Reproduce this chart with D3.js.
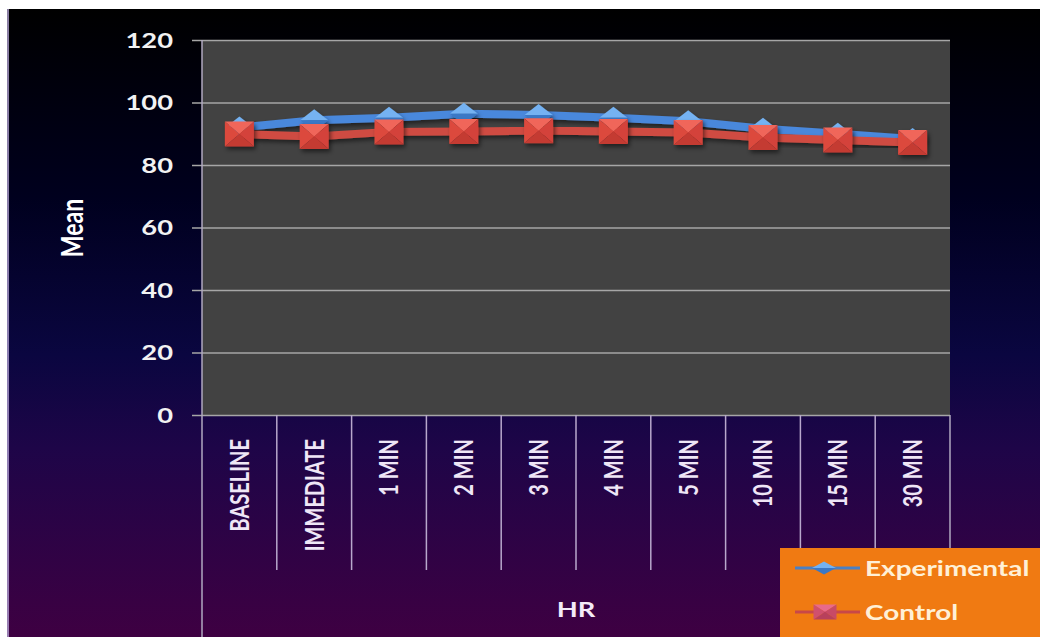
<!DOCTYPE html>
<html>
<head>
<meta charset="utf-8">
<script src="https://cdn.jsdelivr.net/npm/d3@7/dist/d3.min.js"></script>
<style>
  html, body { margin: 0; padding: 0; background: #ffffff; }
  svg { display: block; }
  text { font-family: Lato, "Open Sans", sans-serif; font-weight: bold; }
</style>
</head>
<body>
<svg id="chart" width="1040" height="637"></svg>
<script>
// Heart rate means over time
const categories = ["BASELINE", "IMMEDIATE", "1 MIN", "2 MIN", "3 MIN", "4 MIN", "5 MIN", "10 MIN", "15 MIN", "30 MIN"];
const experimental = [92, 94.3, 95.1, 96.4, 96, 95.1, 94, 91.6, 90, 88.3];
const control = [89.9, 89.1, 90.6, 90.7, 91, 90.7, 90.4, 88.8, 88, 87.2];
const yTicks = [0, 20, 40, 60, 80, 100, 120];
const seriesNames = ["Experimental", "Control"];

const W = 1040, H = 637;
const plot = { left: 202, right: 950, top: 40, bottom: 415 };
const stretch = 1.3; // horizontal text stretch

const svg = d3.select("#chart");
const defs = svg.append("defs");

// background gradient
const bg = defs.append("linearGradient").attr("id", "bg").attr("x1", 0).attr("y1", 0).attr("x2", 0).attr("y2", 1);
[["0%", "#000000"], ["30%", "#00001e"], ["55%", "#0a0640"], ["70%", "#1e0548"], ["100%", "#3e0042"]]
  .forEach(([o, c]) => bg.append("stop").attr("offset", o).attr("stop-color", c));

const shadow = defs.append("filter").attr("id", "shadow").attr("x", "-30%").attr("y", "-30%").attr("width", "170%").attr("height", "170%");
shadow.append("feDropShadow").attr("dx", 2).attr("dy", 3).attr("stdDeviation", 2).attr("flood-color", "#000").attr("flood-opacity", 0.5);

svg.append("rect").attr("x", 7).attr("y", 9).attr("width", W - 7).attr("height", H - 9).attr("fill", "url(#bg)");
svg.append("line").attr("x1", 8).attr("x2", 8).attr("y1", 9).attr("y2", H)
  .attr("stroke", "#b8a8d8").attr("stroke-width", 1.5);

const x = d3.scaleBand().domain(categories).range([plot.left, plot.right]).paddingInner(0).paddingOuter(0);
const y = d3.scaleLinear().domain([0, 120]).range([plot.bottom, plot.top]);
const cx = d => x(d) + x.bandwidth() / 2;

// plot area
svg.append("rect").attr("x", plot.left).attr("y", plot.top)
  .attr("width", plot.right - plot.left).attr("height", plot.bottom - plot.top)
  .attr("fill", "#424242");

// gridlines with outward ticks
const yAxis = d3.axisLeft(y).tickValues(yTicks).tickSize(-(plot.right - plot.left)).tickFormat("");
const gy = svg.append("g").attr("transform", `translate(${plot.left},0)`).call(yAxis);
gy.select(".domain").remove();
gy.selectAll(".tick line").attr("stroke", "#a6a6a6").attr("stroke-width", 1.5).attr("x1", -10);

// y tick labels
svg.append("g").selectAll("text").data(yTicks).join("text")
  .attr("transform", d => `translate(173,${y(d)}) scale(${stretch},1)`)
  .attr("text-anchor", "end").attr("dy", "0.36em")
  .attr("font-size", 21).attr("fill", "#f2f2f2")
  .text(d => d);

// axis lines
svg.append("line").attr("x1", plot.left).attr("x2", plot.left).attr("y1", plot.top).attr("y2", H)
  .attr("stroke", "#b0a8c0").attr("stroke-width", 1.5);
svg.append("line").attr("x1", plot.right).attr("x2", plot.right).attr("y1", plot.bottom).attr("y2", H)
  .attr("stroke", "#b0a8c0").attr("stroke-width", 1.5);

// category separators below the plot
svg.append("g").selectAll("line").data(categories.slice(1)).join("line")
  .attr("x1", d => x(d)).attr("x2", d => x(d))
  .attr("y1", plot.bottom).attr("y2", 570)
  .attr("stroke", "#b8a8cc").attr("stroke-width", 1.5);

// category labels (rotated)
svg.append("g").selectAll("text").data(categories).join("text")
  .attr("transform", d => `translate(${cx(d)},439) scale(${stretch},1) rotate(-90)`)
  .attr("text-anchor", "end").attr("dy", "0.36em")
  .attr("font-size", 20).attr("fill", "#efe6f6")
  .text(d => d);

// axis titles
svg.append("text").attr("transform", `translate(72,228) scale(${stretch},1) rotate(-90)`)
  .attr("text-anchor", "middle").attr("dy", "0.36em")
  .attr("font-size", 23).attr("fill", "#ffffff").text("Mean");
svg.append("text").attr("transform", `translate(${(plot.left + plot.right) / 2},617) scale(${stretch},1)`)
  .attr("text-anchor", "middle")
  .attr("font-size", 21).attr("fill", "#f4eaf8").text("HR");

// markers
function diamond(g, w, h) {
  g.append("path").attr("d", `M0,${-h / 2}L${w / 2},0L${-w / 2},0Z`).attr("fill", "#74b2f2");
  g.append("path").attr("d", `M${-w / 2},0L${w / 2},0L0,${h / 2}Z`).attr("fill", "#3b78c6");
}
function square(g, w, h, colors) {
  const [top, left, right, bottom] = colors;
  g.append("path").attr("d", `M${-w / 2},${-h / 2}L${w / 2},${-h / 2}L0,0Z`).attr("fill", top);
  g.append("path").attr("d", `M${-w / 2},${-h / 2}L0,0L${-w / 2},${h / 2}Z`).attr("fill", left);
  g.append("path").attr("d", `M${w / 2},${-h / 2}L${w / 2},${h / 2}L0,0Z`).attr("fill", right);
  g.append("path").attr("d", `M${-w / 2},${h / 2}L0,0L${w / 2},${h / 2}Z`).attr("fill", bottom);
}
const redColors = ["#f0665a", "#dc4a3e", "#d4433a", "#c43a32"];

const line = d3.line().x((d, i) => cx(categories[i])).y(d => y(d));

svg.append("path").datum(experimental).attr("d", line)
  .attr("fill", "none").attr("stroke", "#4a88dc").attr("stroke-width", 8)
  .attr("filter", "url(#shadow)");
svg.append("g").selectAll("g").data(experimental).join("g")
  .attr("transform", (d, i) => `translate(${cx(categories[i])},${y(d)})`)
  .attr("filter", "url(#shadow)")
  .each(function () { diamond(d3.select(this), 28, 22); });

svg.append("path").datum(control).attr("d", line)
  .attr("fill", "none").attr("stroke", "#cf4c42").attr("stroke-width", 8)
  .attr("filter", "url(#shadow)");
svg.append("g").selectAll("g").data(control).join("g")
  .attr("transform", (d, i) => `translate(${cx(categories[i])},${y(d)})`)
  .attr("filter", "url(#shadow)")
  .each(function () { square(d3.select(this), 29, 25, redColors); });

// legend
const lg = svg.append("g").attr("transform", "translate(780,548)");
lg.append("rect").attr("width", 260).attr("height", 89).attr("fill", "#f07a12");
const rows = [{ name: seriesNames[0], y: 20 }, { name: seriesNames[1], y: 64 }];
lg.append("line").attr("x1", 15).attr("x2", 80).attr("y1", rows[0].y).attr("y2", rows[0].y)
  .attr("stroke", "#4a80c4").attr("stroke-width", 3);
diamond(lg.append("g").attr("transform", `translate(44,${rows[0].y})`), 24, 13);
lg.append("line").attr("x1", 15).attr("x2", 80).attr("y1", rows[1].y).attr("y2", rows[1].y)
  .attr("stroke", "#c84848").attr("stroke-width", 3);
square(lg.append("g").attr("transform", `translate(45,${rows[1].y})`), 23, 15, ["#e86a8a", "#d0506e", "#c84a66", "#b8405c"]);
lg.selectAll("text.leg").data(rows).join("text").attr("class", "leg")
  .attr("transform", d => `translate(85,${d.y}) scale(${stretch},1)`)
  .attr("dy", "0.36em").attr("font-size", 21.5).attr("fill", "#fff0d6")
  .text(d => d.name);
</script>
</body>
</html>
